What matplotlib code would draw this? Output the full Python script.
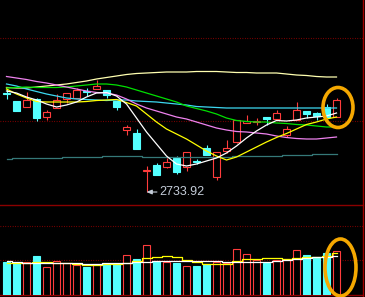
import numpy as np
import matplotlib
matplotlib.use("Agg")
import matplotlib.pyplot as plt
from matplotlib.patches import Ellipse
from matplotlib.lines import Line2D

# daily candles (index points)
opens = [3229, 3189, 3159, 3199, 3109, 3154, 3199, 3204, 3239, 3249, 3244, 3189,
         3044, 3029, 2839, 2869, 2859, 2904, 2859, 2889, 2954, 2809, 2939, 2984,
         3079, 3084, 3109, 3099, 3019, 3094, 3139, 3129, 3159, 3109]
highs = [3249, 3189, 3234, 3204, 3144, 3224, 3229, 3254, 3254, 3294, 3244, 3189,
         3069, 3049, 2864, 2879, 2904, 2914, 2934, 2899, 2969, 2934, 2994, 3094,
         3119, 3104, 3109, 3144, 3064, 3184, 3139, 3134, 3174, 3204]
lows = [3199, 3139, 3159, 3089, 3094, 3154, 3179, 3204, 3214, 3249, 3204, 3144,
        3019, 2949, 2733.92, 2819, 2854, 2824, 2839, 2874, 2919, 2794, 2929, 2979,
        3079, 3069, 3069, 3099, 3009, 3094, 3104, 3094, 3109, 3109]
closes = [3226.5, 3139, 3194, 3104, 3134, 3194, 3229, 3244, 3234, 3264, 3219, 3159,
          3059, 2949, 2844, 2819, 2884, 2834, 2934, 2886, 2919, 2934, 2954, 3094,
          3089, 3089, 3099, 3129, 3049, 3144, 3124, 3114, 3109, 3194]
volumes = [330, 320, 330, 390, 280, 340, 320, 300, 280, 310, 310, 310,
           400, 360, 500, 340, 330, 320, 290, 290, 310, 330, 320, 460,
           410, 350, 320, 350, 360, 450, 400, 380, 420, 440]

# moving averages on price
ma5 = [3239, 3229, 3209, 3194, 3174, 3159, 3169, 3184, 3209, 3229, 3231.5, 3214,
       3174, 3104, 3034, 2974, 2914, 2874, 2864, 2874, 2889, 2904, 2929, 2964,
       3004, 3039, 3069, 3091.5, 3089, 3094, 3104, 3109, 3114, 3129]
ma10 = [3249, 3224, 3204, 3186.5, 3184, 3184, 3184, 3184, 3186.5, 3191.5, 3194, 3196.5,
        3181.5, 3164, 3124, 3084, 3049, 3024, 2999, 2969, 2939, 2914, 2894, 2909,
        2934, 2959, 2984, 3006.5, 3026.5, 3049, 3071.5, 3084, 3099, 3109]
ma20 = [3311.5, 3304, 3296.5, 3286.5, 3279, 3269, 3259, 3249, 3239, 3231.5, 3229, 3219,
        3199, 3174, 3154, 3139, 3124, 3109, 3099, 3084, 3069, 3054, 3044, 3036.5,
        3034, 3029, 3024, 3014, 3006.5, 3001.5, 2999, 2999, 3004, 3009]
ma30 = [3254, 3256.5, 3259, 3256.5, 3256.5, 3256.5, 3259, 3264, 3269, 3274, 3274, 3269,
        3259, 3244, 3229, 3214, 3199, 3184, 3164, 3151.5, 3139, 3124, 3104, 3091.5,
        3086.5, 3084, 3084, 3079, 3076.5, 3071.5, 3069, 3064, 3059, 3059]
ma60 = [3274, 3264, 3249, 3236.5, 3224, 3214, 3204, 3199, 3196.5, 3194, 3191.5, 3194,
        3194, 3189, 3186.5, 3184, 3179, 3174, 3169, 3161.5, 3159, 3156.5, 3154, 3154,
        3154, 3154, 3154, 3154, 3154, 3154, 3154, 3154, 3154, 3154]
ma120 = [3256.5, 3254, 3254, 3259, 3264, 3269, 3274, 3281.5, 3289, 3299, 3306.5, 3314,
         3321.5, 3326.5, 3329, 3331.5, 3334, 3334, 3334, 3336.5, 3336.5, 3336.5, 3334, 3331.5,
         3331.5, 3329, 3329, 3329, 3324, 3319, 3316.5, 3311.5, 3309, 3309]
ma250 = [2897.5, 2902.5, 2902.5, 2902.5, 2902.5, 2902.5, 2907.5, 2907.5, 2907.5, 2907.5, 2914, 2914,
         2914, 2914, 2910.5, 2910.5, 2910.5, 2910.5, 2910.5, 2910.5, 2910.5, 2910.5, 2910.5, 2914,
         2914, 2914, 2914, 2914, 2919, 2919, 2919, 2924, 2924, 2924]

# moving averages on volume
vol_ma5 = [340, 330, 320, 325, 325, 325, 325, 320, 310, 315, 320, 320,
           325, 330, 335, 340, 340, 345, 345, 340, 340, 340, 335, 330,
           330, 330, 335, 340, 350, 365, 370, 380, 385, 390]
vol_ma10 = [325, 325, 325, 330, 330, 325, 320, 315, 300, 305, 310, 310,
            320, 340, 370, 380, 390, 380, 355, 330, 310, 310, 310, 340,
            360, 365, 375, 370, 360, 370, 380, 380, 390, 420]

price_grid = [3504, 3089]
vol_grid = [690, 350]
low_label = "2733.92"

RED = "#ff3c3c"
CYAN = "#54ffff"
GRID = "#9a0000"
BG = "black"
DOTS = (0, (0.7, 1.5))

W, H = 365, 297
fig = plt.figure(figsize=(W / 100, H / 100), dpi=100, facecolor=BG)
ax = fig.add_axes([0, 1 - 205 / H, 363 / W, 205 / H], facecolor=BG)
axv = fig.add_axes([0, 2 / H, 363 / W, 90 / H], facecolor=BG)

x = np.arange(len(opens))
o = np.array(opens)
c = np.array(closes)
up = c >= o
cols = [RED if u else CYAN for u in up]
faces = [BG if u else CYAN for u in up]

# candles
ax.vlines(x, lows, highs, colors=cols, lw=0.8, zorder=2)
ax.bar(x, np.abs(c - o), bottom=np.minimum(o, c), width=0.62,
       color=faces, edgecolor=cols, lw=0.8, zorder=3)

# moving averages
ax.plot(x, ma120, color="#ffffb0", lw=0.9, zorder=4)
ax.plot(x, ma250, color="#357878", lw=0.9, drawstyle="steps-mid", zorder=4)
ax.plot(x, ma60, color="#3cd8f0", lw=0.9, zorder=4)
ax.plot(x, ma30, color="#00e000", lw=0.9, zorder=4)
ax.plot(x, ma20, color="#ee82ee", lw=0.9, zorder=4)
ax.plot(x, ma10, color="#ffff00", lw=0.9, zorder=4)
ax.plot(x, ma5, color="white", lw=0.9, zorder=4)

for g in price_grid:
    ax.axhline(g, color=GRID, lw=0.8, ls=DOTS, zorder=1)

# lowest point label
imin = int(np.argmin(lows))
ax.annotate(low_label, xy=(x[imin], lows[imin]), xytext=(9.5, 0),
            textcoords="offset points", va="center", ha="left",
            color="#c4ccd8", fontsize=9, family="Liberation Sans",
            arrowprops=dict(arrowstyle="-|>,head_length=0.35,head_width=0.15",
                            color="#c4ccd8", lw=0.8, shrinkA=0, shrinkB=0))

ax.add_patch(Ellipse((x[-1] + 0.15, (highs[-1] + lows[-1]) / 2), 3.0, 200,
                     fill=False, ec="#f5a800", lw=2.6, zorder=6))

ax.set_xlim(-0.65, 35.65)
ax.set_ylim(2669, 3694)
ax.axis("off")

# volume panel
axv.bar(x, volumes, width=0.62, color=faces, edgecolor=cols, lw=0.8, zorder=3)
axv.plot(x, vol_ma10, color="#ffff00", lw=0.9, drawstyle="steps-mid", zorder=4)
axv.plot(x, vol_ma5, color="white", lw=0.9, drawstyle="steps-mid", zorder=4)
for g in vol_grid:
    axv.axhline(g, color=GRID, lw=0.8, ls=DOTS, zorder=1)
axv.axhline(900, color="#8b0000", lw=1.0, clip_on=False)
axv.axhline(0, color="#8b0000", lw=1.0, clip_on=False)
axv.add_patch(Ellipse((x[-1] + 0.4, 275), 3.1, 570, fill=False,
                      ec="#f5a800", lw=2.6, zorder=6, clip_on=False))
axv.set_xlim(-0.65, 35.65)
axv.set_ylim(0, 900)
axv.axis("off")

fig.add_artist(Line2D([363 / W, 363 / W], [0, 1], color="#a00000", lw=1.0,
                      transform=fig.transFigure))

fig.savefig("out.png", dpi=100, facecolor=BG)
plt.close(fig)
